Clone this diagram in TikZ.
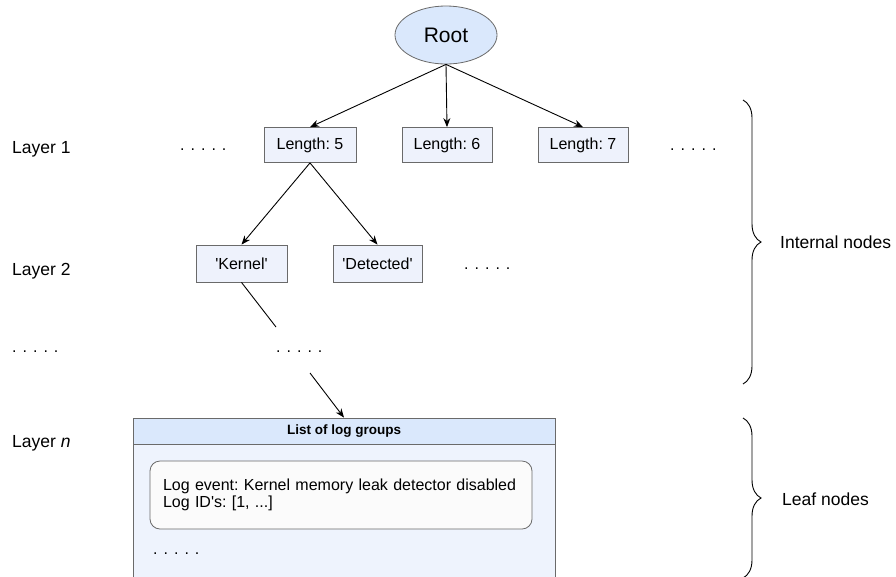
\documentclass[tikz,border=0pt]{standalone}
\usepackage{fontspec}
\setmainfont{Liberation Sans}
\usetikzlibrary{arrows.meta,shapes.geometric,decorations.pathreplacing}
\frenchspacing

\definecolor{nodefill}{HTML}{EEF2FC}
\definecolor{headfill}{HTML}{DAE8FC}
\definecolor{bodyfill}{HTML}{EEF3FD}
\definecolor{edgegray}{HTML}{6A6A6A}
\definecolor{itemfill}{HTML}{FBFBFB}

% a row of five spaced dots
\newcommand{\dotrow}{.\hspace{6pt}.\hspace{6pt}.\hspace{6pt}.\hspace{6pt}.}
\newcommand{\sq}{\textquotesingle}

\begin{document}
\begin{tikzpicture}[x=1pt,y=-1pt,
  font=\fontsize{16}{18}\selectfont,
  box/.style={draw=edgegray, fill=nodefill, line width=0.8pt,
    minimum height=35pt, inner sep=0pt},
  rootnode/.style={ellipse, draw=edgegray, fill=headfill, line width=0.8pt,
    minimum width=102pt, minimum height=58pt, inner sep=0pt,
    font=\fontsize{21}{24}\selectfont},
  arr/.style={-{Stealth[length=9pt,width=7pt]}, line width=0.9pt},
  link/.style={line width=0.9pt},
  sidetext/.style={anchor=base west, inner sep=0pt},
  bigside/.style={sidetext, font=\fontsize{17.5}{20}\selectfont},
  bracepath/.style={decorate, decoration={brace, amplitude=18pt}, line width=0.9pt},
]
\clip (0,0) rectangle (896,576);

% tree nodes
\node[rootnode] (root) at (446,35) {Root};

\node[box, minimum width=92pt]  (l5) at (310,145) {Length: 5};
\node[box, minimum width=90pt]  (l6) at (447,145) {Length: 6};
\node[box, minimum width=90pt]  (l7) at (583,145) {Length: 7};

\node[box, minimum width=91pt, minimum height=37pt] (kern) at (241.5,263.5) {\sq Kernel\sq};
\node[box, minimum width=89pt, minimum height=37pt] (det)  at (377.5,263.5) {\sq Detected\sq};

% leaf container
\node[draw=edgegray, fill=bodyfill, line width=0.8pt, minimum width=422pt,
  minimum height=140pt, inner sep=0pt] (body) at (344,514) {};
\node[draw=edgegray, fill=headfill, line width=0.8pt, minimum width=422pt,
  minimum height=26pt, inner sep=0pt, font=\bfseries\fontsize{13.5}{16}\selectfont]
  (head) at (344,431) {List of log groups};
\node[draw=edgegray, fill=itemfill, line width=0.8pt, rounded corners=10pt,
  minimum width=382pt, minimum height=68pt, inner xsep=13pt, inner ysep=0pt,
  text width=356pt, align=left, font=\fontsize{16}{17}\selectfont]
  (item) at (341,495) {Log event: Kernel memory leak detector disabled\\Log ID\sq s: [1, ...]};
\node[sidetext] (listdots) at (153,554) {\dotrow};

% continuation dots
\node[sidetext] (d1l) at (180,150) {\dotrow};
\node[sidetext] (d1r) at (670,150) {\dotrow};
\node[sidetext] (d2r) at (464,269) {\dotrow};
\node[sidetext] (dmid) at (276,352) {\dotrow};
\node[sidetext] (dleft) at (12,352) {\dotrow};

% layer labels
\node[bigside] (lay1) at (12,153) {Layer 1};
\node[bigside] (lay2) at (12,275) {Layer 2};
\node[bigside] (layn) at (12,447) {Layer \textit{n}};

% connectors
\draw[arr] (root.south) -- (l5.north);
\draw[arr] (root.south) -- (l6.north);
\draw[arr] (root.south) -- (l7.north);
\draw[arr] (l5.south) -- (kern.north);
\draw[arr] (l5.south) -- (det.north);

\coordinate (kernend) at (276,327);
\coordinate (leafstart) at (310,373);
\draw[link] (kern.south) -- (kernend);
\draw[arr] (leafstart) -- (head.north);

% braces
\coordinate (ibtop) at (743,100);
\coordinate (ibbot) at (743,384);
\coordinate (lbtop) at (743,418);
\coordinate (lbbot) at (743,578);
\draw[bracepath] (ibtop) -- (ibbot);
\draw[bracepath] (lbtop) -- (lbbot);
\node[bigside] (inttxt) at (780,248) {Internal nodes};
\node[bigside] (leaftxt) at (782,505) {Leaf nodes};
\end{tikzpicture}
\end{document}
